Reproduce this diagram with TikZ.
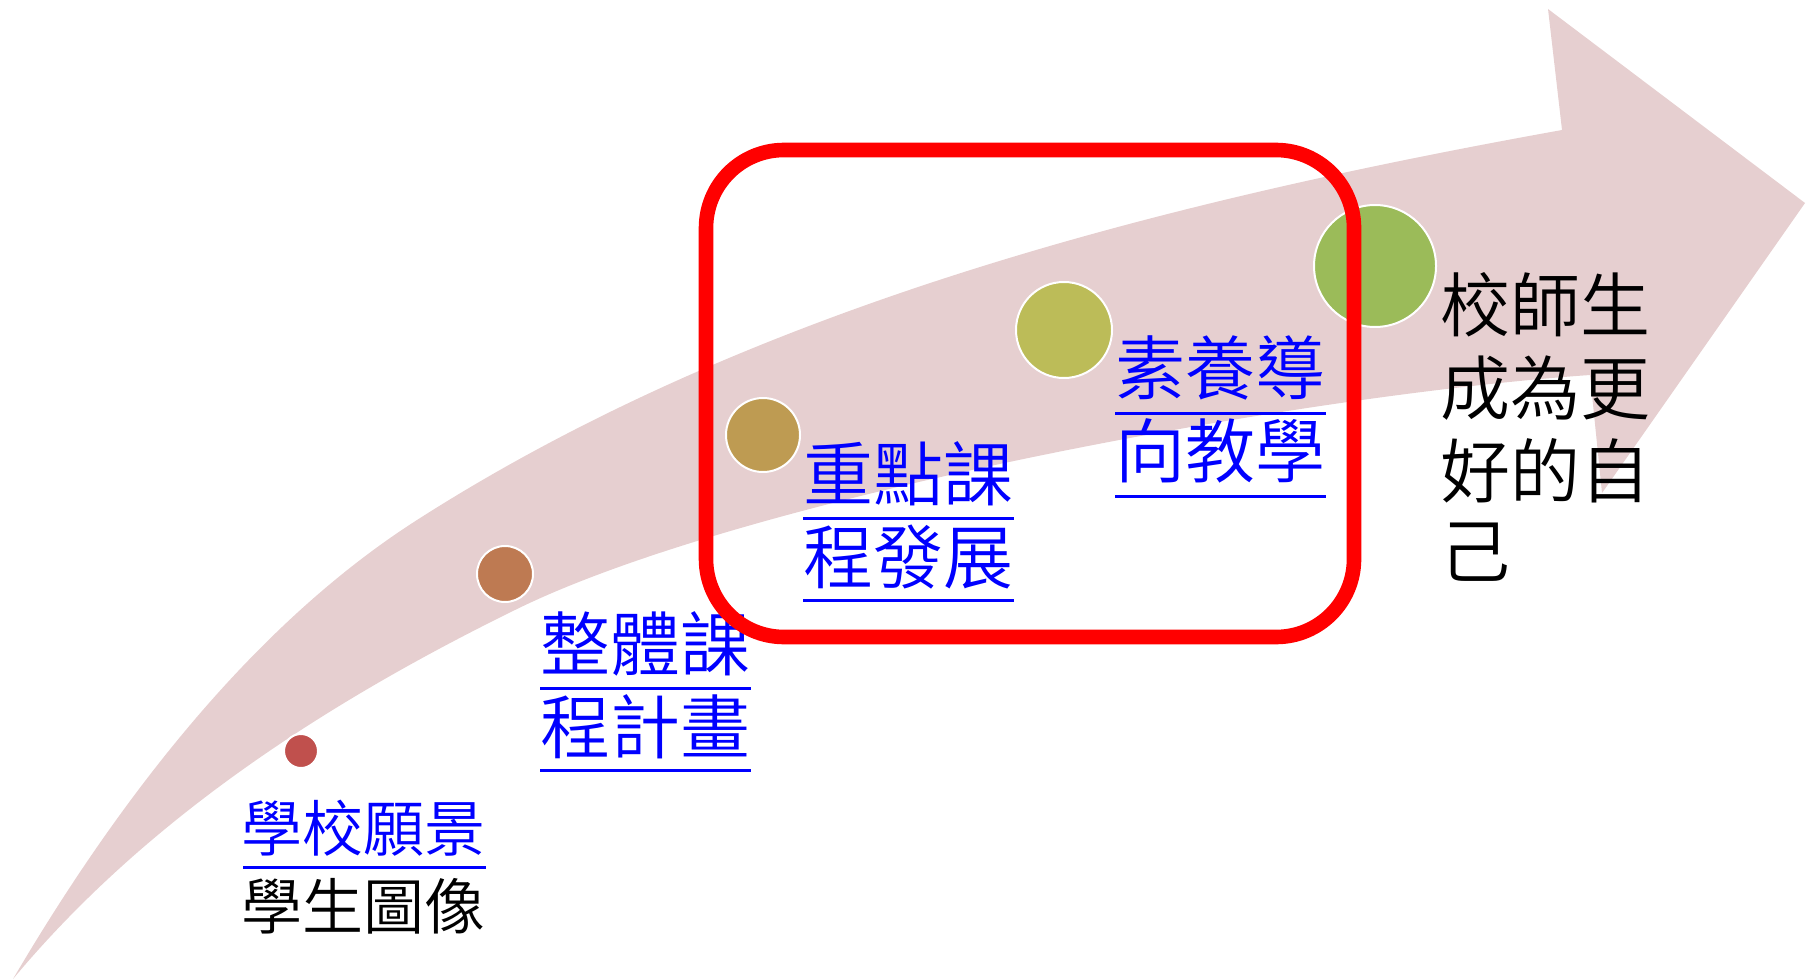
\documentclass[tikz,border=0pt]{standalone}
\usepackage{fontspec}
\newfontfamily\cjk{Noto Sans CJK TC}[UprightFont=* DemiLight]
\definecolor{arrowpink}{RGB}{230,207,208}
\definecolor{dotA}{RGB}{192,80,77}
\definecolor{dotB}{RGB}{190,122,82}
\definecolor{dotC}{RGB}{190,155,82}
\definecolor{dotD}{RGB}{188,188,88}
\definecolor{dotE}{RGB}{155,187,89}
\definecolor{linkblue}{RGB}{0,0,255}
\definecolor{boxred}{RGB}{255,0,0}
\begin{document}
\begin{tikzpicture}[x=0.5pt,y=-0.5pt,
  dot/.style={circle,draw=white,line width=1pt,inner sep=0pt},
  bigtxt/.style={anchor=west,inner sep=0pt,font=\cjk\fontsize{35}{41}\selectfont},
  smalltxt/.style={anchor=west,inner sep=0pt,font=\cjk\fontsize{30.5}{38}\selectfont},
  link/.style={bigtxt,text=linkblue},
  uline/.style={draw=linkblue,line width=1.5pt},
  focusbox/.style={draw=boxred,line width=7.3pt,rounded corners=39pt}]
\useasboundingbox (0,0) rectangle (1807,979);
% curved arrow
\fill[arrowpink] (13,979) .. controls (114.4,806.6) and (248.5,627.8) .. (417,520)
  .. controls (753.8,304.4) and (1168.4,200.8) .. (1562,130)
  -- (1548,9) -- (1805,203) -- (1602,493) -- (1590,375)
  .. controls (1290.7,395.9) and (741.5,499) .. (517,609)
  .. controls (328.4,701.4) and (147.4,817.7) .. (13,979) -- cycle;
% dots
\node[dot,fill=dotA,minimum size=17pt] (d1) at (301,751) {};
\node[dot,fill=dotB,minimum size=28pt] (d2) at (505,574) {};
\node[dot,fill=dotC,minimum size=37pt] (d3) at (763,435) {};
\node[dot,fill=dotD,minimum size=48pt] (d4) at (1064,330) {};
\node[dot,fill=dotE,minimum size=61pt] (d5) at (1375,266) {};
% labels
\node[smalltxt,text=linkblue] (t1a) at (241,828) {學校願景};
\draw[uline] (243,867) -- (486,867);
\node[smalltxt] (t1b) at (241,906) {學生圖像};
\node[link] (t2a) at (540,644) {整體課};
\draw[uline] (540,688) -- (751,688);
\node[link] (t2b) at (540,727) {程計畫};
\draw[uline] (540,770) -- (751,770);
\node[link] (t3a) at (803,474) {重點課};
\draw[uline] (803,518) -- (1014,518);
\node[link] (t3b) at (803,557) {程發展};
\draw[uline] (803,600) -- (1014,600);
\node[link] (t4a) at (1115,368) {素養導};
\draw[uline] (1115,413) -- (1326,413);
\node[link] (t4b) at (1115,451) {向教學};
\draw[uline] (1115,496) -- (1326,496);
\node[bigtxt] (t5a) at (1440,305) {校師生};
\node[bigtxt] (t5b) at (1440,388) {成為更};
\node[bigtxt] (t5c) at (1440,471) {好的自};
\node[bigtxt] (t5d) at (1440,552) {己};
% focus box
\draw[focusbox] (706,150) rectangle (1354,637);
\end{tikzpicture}
\end{document}
